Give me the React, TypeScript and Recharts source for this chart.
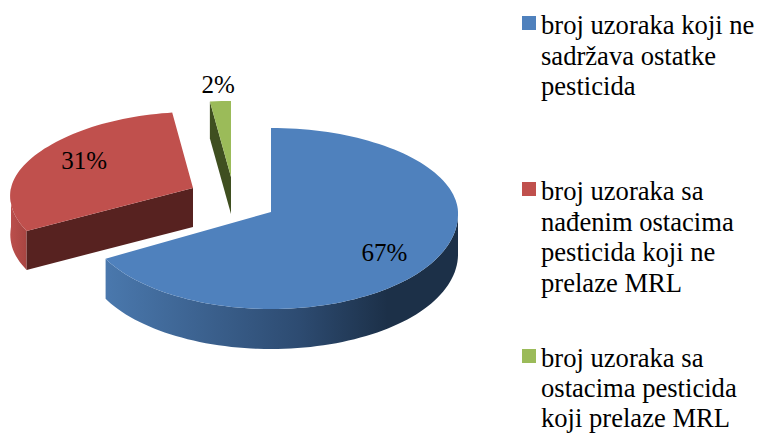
import React from "react";
import { PieChart, Pie, Legend } from "recharts";

const categories = [
  "broj uzoraka koji ne sadržava ostatke pesticida",
  "broj uzoraka sa nađenim ostacima pesticida koji ne prelaze MRL",
  "broj uzoraka sa ostacima pesticida koji prelaze MRL",
];
const shares = [67, 31, 2];
const colors = ["#4f81bd", "#c0504d", "#9bbb59"];

const data = categories.map((name, i) => ({ name, value: shares[i], fill: colors[i] }));

// how each slice is exploded and tilted, the original is a 3D pie
const looks = [
  { dx: 0, dy: 0, rx: 1, ryTop: 84, ryBottom: 97, skew: 0.02, depth: 40, wall: "url(#blueWall)", side: "#1c3048", labelAt: 0.71, labelDx: -2, labelDy: 5 },
  { dx: -78, dy: -24, rx: 0.973, ryTop: 76, ryBottom: 89, skew: 0.09, depth: 39, wall: "url(#redWall)", side: "#572220", labelAt: 0.7, labelDx: 0, labelDy: -3 },
  { dx: -40, dy: -35, rx: 0.9, ryTop: 76, ryBottom: 89, skew: 0, depth: 37, wall: "#3f4f20", side: "#3f4f20", labelAt: 1.22, labelDx: 0, labelDy: 0 },
];

const project = (cx: number, cy: number, r: number, look: any, clock: number, frac = 1) => {
  const t = (clock * Math.PI) / 180;
  const ny = -Math.cos(t);
  const x = Math.sin(t) * r * look.rx * frac * (1 + look.skew * ny);
  const y = ny * (ny < 0 ? look.ryTop : look.ryBottom) * frac;
  return [cx + look.dx + x, cy + look.dy + y];
};

const arcPoints = (cx: number, cy: number, r: number, look: any, from: number, to: number) => {
  const pts: number[][] = [];
  for (let a = from; a < to; a += 2) pts.push(project(cx, cy, r, look, a));
  pts.push(project(cx, cy, r, look, to));
  return pts;
};

const toPath = (pts: number[][]) =>
  pts.map((p, i) => `${i ? "L" : "M"}${p[0].toFixed(1)} ${p[1].toFixed(1)}`).join(" ") + " Z";

const Slice3D = (props: any) => {
  const { cx, cy, outerRadius, startAngle, endAngle, fill, index } = props;
  const look = looks[index];
  const from = 90 - startAngle;
  const to = 90 - endAngle;
  const apex = project(cx, cy, 0, look, 0, 0);
  const arc = arcPoints(cx, cy, outerRadius, look, from, to);
  const down = (p: number[]) => [p[0], p[1] + look.depth];

  const a0 = Math.max(from, 90);
  const a1 = Math.min(to, 270);
  const front = a1 > a0 ? arcPoints(cx, cy, outerRadius, look, a0, a1) : [];
  const startEdge = project(cx, cy, outerRadius, look, from);

  return (
    <g>
      {front.length > 0 && (
        <path d={toPath([...front, ...front.slice().reverse().map(down)])} fill={look.wall} />
      )}
      <path d={toPath([apex, startEdge, down(startEdge), down(apex)])} fill={look.side} />
      <path d={toPath([apex, ...arc])} fill={fill} />
    </g>
  );
};

const renderLabel = (props: any) => {
  const { cx, cy, outerRadius, midAngle, percent, index } = props;
  const look = looks[index];
  const [x, y] = project(cx, cy, outerRadius, look, 90 - midAngle, look.labelAt);
  return (
    <text
      x={x + look.labelDx}
      y={y + look.labelDy}
      textAnchor="middle"
      dominantBaseline="central"
      fontSize={25}
      fontFamily="Liberation Serif"
      fill="#000"
    >
      {`${Math.round(percent * 100)}%`}
    </text>
  );
};

const legendTops = [10, 176, 343];

const renderLegend = (props: any) => (
  <div style={{ position: "relative", width: 757, height: 433 }}>
    {props.payload.map((entry: any, i: number) => (
      <div key={entry.value} style={{ position: "absolute", left: 522, top: legendTops[i], width: 235 }}>
        <span style={{ position: "absolute", left: 0, top: 6, width: 14, height: 14, background: entry.color }} />
        <div style={{ marginLeft: 19, fontFamily: "Liberation Serif", fontSize: 26.6, lineHeight: i === 2 ? "30px" : "30.5px", color: "#000" }}>
          {entry.value}
        </div>
      </div>
    ))}
  </div>
);

export default function App() {
  return (
    <div style={{ position: "absolute", left: 0, top: 0, width: 757, height: 433 }}>
      <PieChart width={757} height={433} margin={{ top: 0, right: 0, bottom: 0, left: 0 }}>
        <defs>
          <linearGradient id="blueWall" x1="0" y1="0" x2="1" y2="0">
            <stop offset="0" stopColor="#4a78ad" />
            <stop offset="0.55" stopColor="#2d4b71" />
            <stop offset="0.8" stopColor="#1c3048" />
            <stop offset="1" stopColor="#1c3048" />
          </linearGradient>
          <linearGradient id="redWall" x1="0" y1="0" x2="1" y2="0">
            <stop offset="0" stopColor="#bb4f4c" />
            <stop offset="1" stopColor="#a84542" />
          </linearGradient>
        </defs>
        <Pie
          data={data}
          dataKey="value"
          nameKey="name"
          cx={271}
          cy={212}
          innerRadius={0}
          outerRadius={187}
          startAngle={90}
          endAngle={-270}
          stroke="none"
          shape={Slice3D}
          label={renderLabel}
          labelLine={false}
          isAnimationActive={false}
        />
        <Legend content={renderLegend} wrapperStyle={{ position: "absolute", left: 0, top: 0, width: 757, height: 433, pointerEvents: "none" }} />
      </PieChart>
    </div>
  );
}
